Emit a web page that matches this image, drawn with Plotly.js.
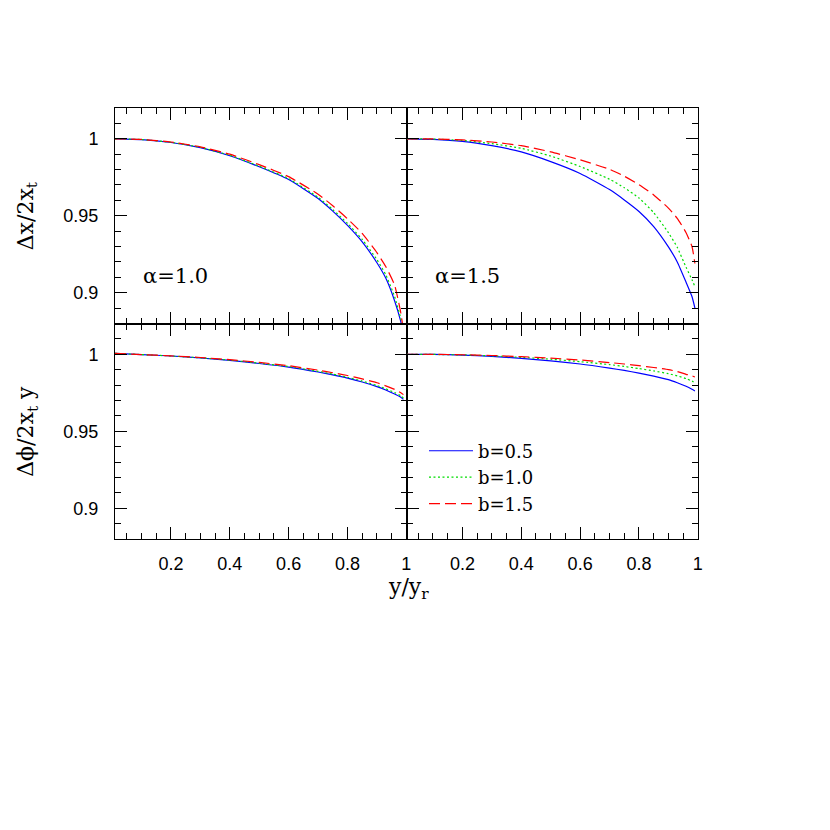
<!DOCTYPE html>
<html>
<head>
<meta charset="utf-8">
<script src="https://cdn.plot.ly/plotly-3.0.1.min.js"></script>
<style>
  body { margin: 0; background: white; }
  #chart { width: 830px; height: 830px; }
</style>
</head>
<body>
<div id="chart"></div>
<script>
// y/y_r grid shared by every curve
var yRatio = [0.01, 0.1, 0.2, 0.3, 0.4, 0.5, 0.6, 0.7, 0.75, 0.8, 0.85, 0.9, 0.93, 0.96, 0.98, 0.99];

// top row: dx/2x_t, alpha = 1.0
var dxA10_b05 = [1.0, 0.9995, 0.9976, 0.9942, 0.9890, 0.9818, 0.9735, 0.9612, 0.9530, 0.9437, 0.9330, 0.9195, 0.9095, 0.8948, 0.8820, 0.8730];
var dxA10_b10 = [1.0, 0.9995, 0.9977, 0.9944, 0.9893, 0.9822, 0.9741, 0.9620, 0.9540, 0.9450, 0.9346, 0.9215, 0.9117, 0.8975, 0.8840, 0.8750];
var dxA10_b15 = [1.0, 0.9996, 0.9979, 0.9948, 0.9900, 0.9832, 0.9754, 0.9640, 0.9565, 0.9480, 0.9385, 0.9260, 0.9170, 0.9050, 0.8880, 0.8760];

// top row: dx/2x_t, alpha = 1.5
var dxA15_b05 = [1.0, 0.9996, 0.9983, 0.9955, 0.9915, 0.9852, 0.9775, 0.9670, 0.9603, 0.9528, 0.9430, 0.9298, 0.9200, 0.9068, 0.8975, 0.8900];
var dxA15_b10 = [1.0, 0.9998, 0.9989, 0.9968, 0.9938, 0.9888, 0.9820, 0.9737, 0.9682, 0.9615, 0.9520, 0.9390, 0.9295, 0.9165, 0.9085, 0.9040];
var dxA15_b15 = [1.0, 0.9999, 0.9993, 0.9979, 0.9955, 0.9915, 0.9863, 0.9802, 0.9757, 0.9702, 0.9635, 0.9550, 0.9483, 0.9390, 0.9300, 0.9190];

// bottom row: dphi/2x_t y, alpha = 1.0
var dpA10_b05 = [1.0006, 0.9998, 0.9989, 0.9976, 0.9960, 0.9940, 0.9917, 0.9885, 0.9866, 0.9845, 0.9820, 0.9790, 0.9768, 0.9742, 0.9722, 0.9707];
var dpA10_b10 = [1.0006, 0.9998, 0.9989, 0.9977, 0.9962, 0.9942, 0.9920, 0.9889, 0.9871, 0.9850, 0.9826, 0.9797, 0.9776, 0.9751, 0.9731, 0.9716];
var dpA10_b15 = [1.0006, 0.9998, 0.9990, 0.9979, 0.9965, 0.9947, 0.9926, 0.9897, 0.9880, 0.9862, 0.9840, 0.9815, 0.9795, 0.9772, 0.9752, 0.9738];

// bottom row: dphi/2x_t y, alpha = 1.5
var dpA15_b05 = [1.0, 0.9999, 0.9995, 0.9987, 0.9973, 0.9957, 0.9937, 0.9910, 0.9895, 0.9878, 0.9858, 0.9835, 0.9815, 0.9792, 0.9773, 0.9762];
var dpA15_b10 = [1.0, 0.9999, 0.9996, 0.9990, 0.9980, 0.9968, 0.9952, 0.9933, 0.9921, 0.9907, 0.9892, 0.9874, 0.9860, 0.9842, 0.9826, 0.9815];
var dpA15_b15 = [1.0, 1.0, 0.9997, 0.9992, 0.9985, 0.9975, 0.9963, 0.9946, 0.9937, 0.9926, 0.9914, 0.9900, 0.9888, 0.9870, 0.9860, 0.9852];

var bNames = ["b=0.5", "b=1.0", "b=1.5"];
var panelLabels = ["α=1.0", "α=1.5"];

var colors = ["#0000ff", "#00dd00", "#ff0000"];
var dashes = ["solid", "2px,2.5px", "11px,5px"];

var serif = "DejaVu Serif, serif";
var sans = "Liberation Sans, Arial, sans-serif";

function curves(ys, xa, ya, showLeg) {
	var out = [];
	for (var i = 0; i < ys.length; i++) {
		out.push({
			x: yRatio,
			y: ys[i],
			xaxis: xa,
			yaxis: ya,
			type: 'scatter',
			mode: 'lines',
			name: bNames[i],
			legendgroup: bNames[i],
			showlegend: showLeg,
			line: {color: colors[i], width: 1.2, dash: dashes[i], shape: 'spline', smoothing: 0.5},
			hoverinfo: 'skip'
		});
	}
	return out;
}

function axis(domain, anchor, isX, labels) {
	var a = {
		domain: domain,
		anchor: anchor,
		showline: true,
		linecolor: 'black',
		linewidth: 1,
		mirror: 'allticks',
		ticks: 'inside',
		ticklen: 12,
		tickwidth: 1,
		tickcolor: 'black',
		showgrid: false,
		zeroline: false,
		showticklabels: labels,
		tickfont: {family: sans, size: 18, color: 'black'},
		tickmode: 'linear',
		tick0: 0,
		fixedrange: true
	};
	if (isX) {
		a.range = [0.01, 1.0005];
		a.dtick = 0.2;
		a.ticklabelstandoff = 8;
		a.minor = {dtick: 0.05, tick0: 0, ticks: 'inside', ticklen: 6, tickwidth: 1, tickcolor: 'black', showgrid: false};
	} else {
		a.range = [0.88, 1.02];
		a.dtick = 0.05;
		a.ticklabelstandoff = 12;
		a.minor = {dtick: 0.01, tick0: 0, ticks: 'inside', ticklen: 6, tickwidth: 1, tickcolor: 'black', showgrid: false};
	}
	return a;
}

var data = []
	.concat(curves([dxA10_b05, dxA10_b10, dxA10_b15], 'x', 'y', false))
	.concat(curves([dxA15_b05, dxA15_b10, dxA15_b15], 'x2', 'y2', false))
	.concat(curves([dpA10_b05, dpA10_b10, dpA10_b15], 'x3', 'y3', false))
	.concat(curves([dpA15_b05, dpA15_b10, dpA15_b15], 'x4', 'y4', true));

var layout = {
	width: 830,
	height: 830,
	margin: {l: 115, r: 132, t: 108, b: 291},
	paper_bgcolor: 'white',
	plot_bgcolor: 'white',
	showlegend: true,
	legend: {
		x: 0.53, y: 0.247, xref: 'paper', yref: 'paper',
		xanchor: 'left', yanchor: 'top',
		bgcolor: 'rgba(0,0,0,0)',
		font: {family: serif, size: 18, color: 'black'},
		itemwidth: 44,
		tracegroupgap: 0
	},
	// top row
	xaxis: axis([0, 0.5], 'y', true, false),
	yaxis: axis([0.5, 1], 'x', false, true),
	xaxis2: axis([0.5, 1], 'y2', true, false),
	yaxis2: axis([0.5, 1], 'x2', false, false),
	// bottom row
	xaxis3: axis([0, 0.5], 'y3', true, true),
	yaxis3: axis([0, 0.5], 'x3', false, true),
	xaxis4: axis([0.5, 1], 'y4', true, true),
	yaxis4: axis([0, 0.5], 'x4', false, false),
	annotations: [
		{text: panelLabels[0], xref: 'x', yref: 'y', x: 0.1, y: 0.911, xanchor: 'left', yanchor: 'middle',
			showarrow: false, font: {family: serif, size: 21, color: 'black'}},
		{text: panelLabels[1], xref: 'x2', yref: 'y2', x: 0.1, y: 0.911, xanchor: 'left', yanchor: 'middle',
			showarrow: false, font: {family: serif, size: 21, color: 'black'}},
		{text: "Δx/2x<sub>t</sub>", xref: 'paper', yref: 'paper', x: -0.15, y: 0.75, xanchor: 'center', yanchor: 'middle',
			textangle: -90, showarrow: false, font: {family: serif, size: 22, color: 'black'}},
		{text: "Δϕ/2x<sub>t</sub> y", xref: 'paper', yref: 'paper', x: -0.15, y: 0.25, xanchor: 'center', yanchor: 'middle',
			textangle: -90, showarrow: false, font: {family: serif, size: 22, color: 'black'}},
		{text: "y/y<sub>r</sub>", xref: 'paper', yref: 'paper', x: 0.503, y: -0.115, xanchor: 'center', yanchor: 'middle',
			showarrow: false, font: {family: serif, size: 22, color: 'black'}}
	]
};

Plotly.newPlot('chart', data, layout, {displayModeBar: false, staticPlot: true});
</script>
</body>
</html>
